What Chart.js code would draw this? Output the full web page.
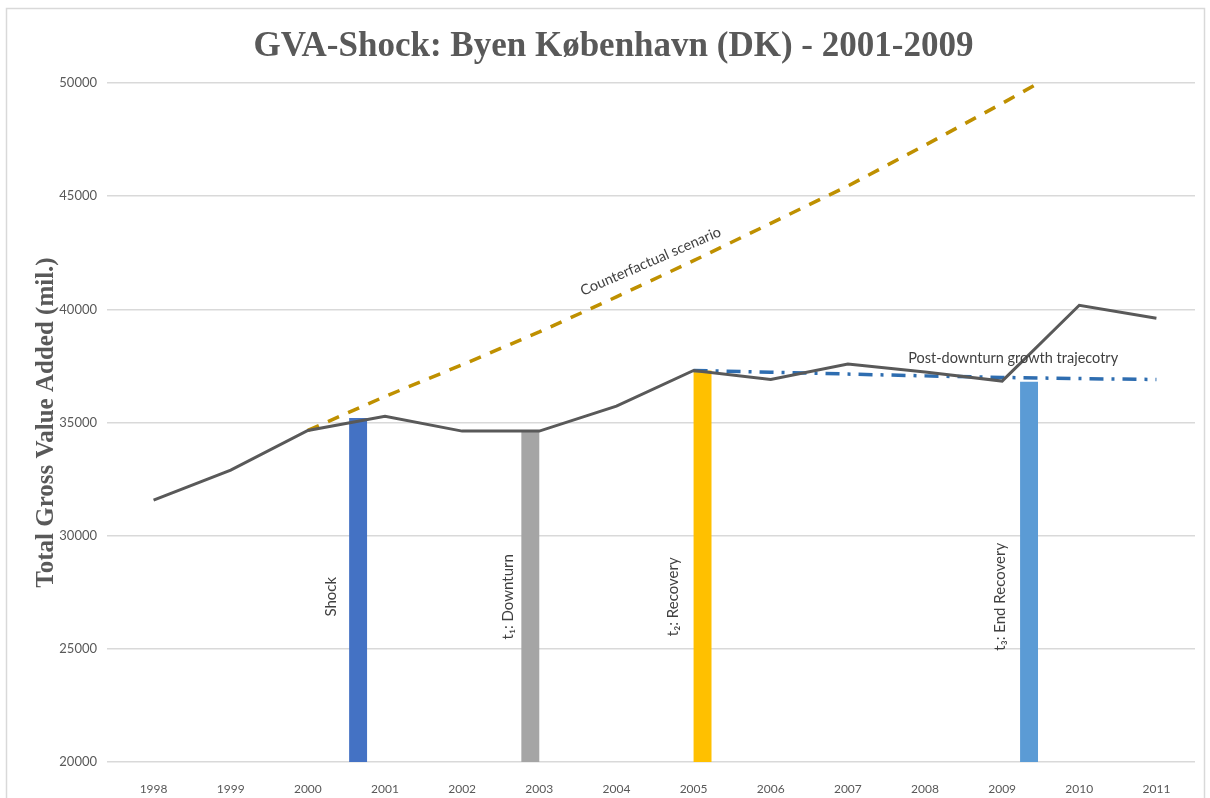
<!DOCTYPE html>
<html>
<head>
<meta charset="utf-8">
<title>GVA-Shock: Byen København (DK)</title>
<script src="https://cdn.jsdelivr.net/npm/chart.js"></script>
<style>
    html, body { margin: 0; padding: 0; background: #fff; }
    #wrap { width: 1210px; height: 798px; }
</style>
</head>
<body>
<div id="wrap"><canvas id="gva-chart" width="1210" height="798"></canvas></div>
<script>
// data
const years = ["1998", "1999", "2000", "2001", "2002", "2003", "2004",
    "2005", "2006", "2007", "2008", "2009", "2010", "2011"];
const gvaActual = [31570, 32900, 34650, 35280, 34620, 34620, 35720,
    37300, 36900, 37580, 37230, 36830, 40180, 39610];
const counterfactual = [null, null, 34650, 36150, 37550, 39000, 40550,
    42150, 43800, 45450, 47250, 49100, 51000, null];
const postDownturn = [null, null, null, null, null, null, null,
    37300, 37220, 37140, 37060, 36990, 36940, 36900];
const shockBar = [null, null, null, 35200, null, null, null, null, null, null, null, null, null, null];
const downturnBar = [null, null, null, null, null, 34650, null, null, null, null, null, null, null, null];
const recoveryBar = [null, null, null, null, null, null, null, 37300, null, null, null, null, null, null];
const endRecoveryBar = [null, null, null, null, null, null, null, null, null, null, null, 36800, null, null];
const barLabels = ["Shock", "t\u2081: Downturn", "t\u2082: Recovery", "t\u2083: End Recovery"];
const yTicks = [20000, 25000, 30000, 35000, 40000, 45000, 50000];

const textGrey = "#595959";
const labelDark = "#404040";
const gridGrey = "#d9d9d9";

// white background + thin frame like the Excel chart area
const frame = {
    id: "frame",
    beforeDraw(chart) {
        const ctx = chart.ctx;
        ctx.save();
        ctx.fillStyle = "#fff";
        ctx.fillRect(0, 0, chart.width, chart.height);
        ctx.strokeStyle = gridGrey;
        ctx.lineWidth = 1.5;
        ctx.strokeRect(6.5, 8.5, chart.width - 12, chart.height);
        ctx.restore();
    },
};

// rotated labels next to the marker bars, plus the two line annotations
const notes = {
    id: "notes",
    afterDatasetsDraw(chart) {
        const ctx = chart.ctx;
        const x = chart.scales.x;
        const y = chart.scales.y;
        ctx.save();
        ctx.fillStyle = labelDark;
        ctx.font = "15px Lato, 'Open Sans', sans-serif";
        ctx.textAlign = "center";
        ctx.textBaseline = "middle";

        const dx = [-27, -22, -29, -29];
        for (let i = 0; i < 4; i++) {
            const meta = chart.getDatasetMeta(3 + i);
            const bar = meta.data.find((b, k) => chart.data.datasets[3 + i].data[k] != null);
            if (!bar) continue;
            ctx.save();
            ctx.translate(bar.x + dx[i], y.getPixelForValue(27300));
            ctx.rotate(-Math.PI / 2);
            ctx.fillText(barLabels[i], 0, 0);
            ctx.restore();
        }

        ctx.font = "14.5px Lato, 'Open Sans', sans-serif";
        // "Counterfactual scenario" sits above the dashed line
        const cx = (x.getPixelForValue(4) + x.getPixelForValue(5)) / 2 + 150;
        const cy = y.getPixelForValue(41500) - 14;
        ctx.save();
        ctx.translate(cx, cy);
        ctx.rotate(-0.41);
        ctx.fillText("Counterfactual scenario", 0, 0);
        ctx.restore();

        ctx.fillText("Post-downturn growth trajecotry",
            x.getPixelForValue(11) + 11,
            y.getPixelForValue(37850));
        ctx.restore();
    },
};

new Chart(document.getElementById("gva-chart"), {
    type: "bar",
    data: {
        labels: years,
        datasets: [
            {
                type: "line",
                label: "GVA",
                data: gvaActual,
                borderColor: "#595959",
                borderWidth: 3,
                pointRadius: 0,
                tension: 0,
                order: 0,
            },
            {
                type: "line",
                label: "Post-downturn growth trajecotry",
                data: postDownturn,
                borderColor: "#2e6db0",
                borderWidth: 3.5,
                borderDash: [14, 8, 3, 8],
                pointRadius: 0,
                tension: 0,
                order: 1,
            },
            {
                type: "line",
                label: "Counterfactual scenario",
                data: counterfactual,
                borderColor: "#bf9000",
                borderWidth: 3.5,
                borderDash: [12, 10],
                pointRadius: 0,
                tension: 0,
                order: 2,
            },
            { label: "Shock", data: shockBar, backgroundColor: "#4472c4", order: 3 },
            { label: "Downturn", data: downturnBar, backgroundColor: "#a5a5a5", order: 3 },
            { label: "Recovery", data: recoveryBar, backgroundColor: "#ffc000", order: 3 },
            { label: "End Recovery", data: endRecoveryBar, backgroundColor: "#5b9bd5", order: 3 },
        ],
    },
    options: {
        responsive: false,
        animation: false,
        categoryPercentage: 0.93,
        barPercentage: 1.0,
        layout: { padding: { left: 32, right: 15, top: 26, bottom: 0 } },
        plugins: {
            legend: { display: false },
            tooltip: { enabled: false },
            title: {
                display: true,
                text: "GVA-Shock: Byen København (DK) - 2001-2009",
                color: textGrey,
                font: { family: "'Liberation Serif', 'Times New Roman', serif", size: 35, weight: "bold" },
                padding: { top: 0, bottom: 15 },
            },
        },
        scales: {
            x: {
                grid: { display: false },
                border: { display: false },
                ticks: {
                    color: textGrey,
                    font: { family: "Lato, sans-serif", size: 12 },
                    padding: 12,
                    maxRotation: 0,
                },
                afterFit: (s) => { s.height = 36; },
            },
            y: {
                min: 20000,
                max: 50000,
                afterBuildTicks: (s) => { s.ticks = yTicks.map((v) => ({ value: v })); },
                grid: { color: gridGrey, lineWidth: 1.5, drawTicks: true, tickLength: 8, tickColor: gridGrey },
                border: { display: false },
                title: {
                    display: true,
                    text: "Total Gross Value Added (mil.)",
                    color: textGrey,
                    font: { family: "'Liberation Serif', 'Times New Roman', serif", size: 25, weight: "bold" },
                    padding: { top: 0, bottom: 0 },
                },
                ticks: {
                    color: textGrey,
                    font: { family: "Lato, sans-serif", size: 13 },
                    padding: 10,
                    callback: (v) => String(v),
                },
                afterFit: (s) => { s.width = 83; },
            },
        },
    },
    plugins: [frame, notes],
});
</script>
</body>
</html>
